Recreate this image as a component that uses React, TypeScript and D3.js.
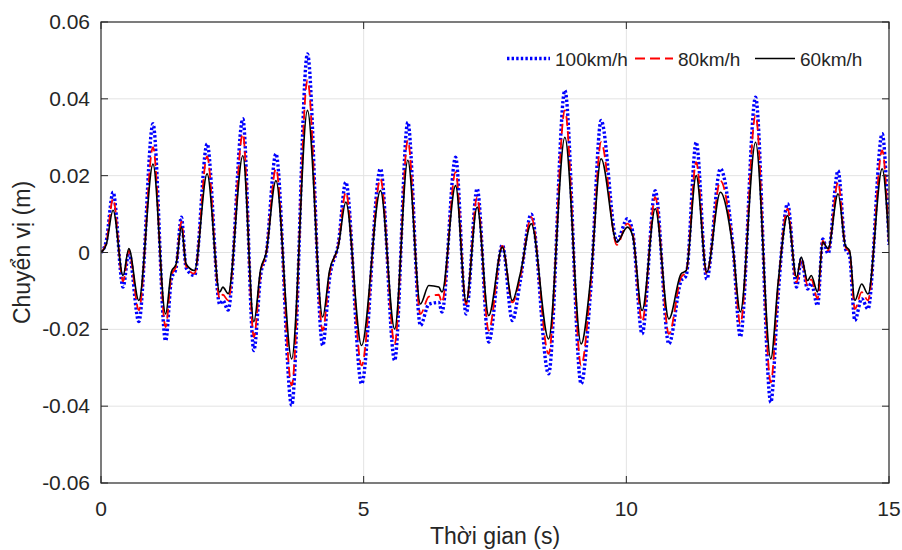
import * as d3 from 'd3';
import React, { useRef, useEffect, useCallback } from 'react';

// key points (time in s, displacement in m)
const time = [
    0.00, 0.10, 0.23, 0.42, 0.53, 0.72, 0.99, 1.23, 1.34, 1.43, 1.53, 1.62, 1.78, 2.02, 2.26, 2.32, 2.42,
    2.70, 2.91, 3.04, 3.14, 3.33, 3.63, 3.93, 4.22, 4.35, 4.52, 4.66, 4.96, 5.32, 5.59, 5.84, 6.08, 6.24,
    6.43, 6.49, 6.75, 6.95, 7.16, 7.38, 7.64, 7.83, 7.98, 8.19, 8.52, 8.83, 9.14, 9.32, 9.52, 9.82, 10.02,
    10.12, 10.30, 10.55, 10.81, 11.04, 11.14, 11.33, 11.53, 11.79, 12.03, 12.17, 12.46, 12.75, 12.89, 13.07,
    13.24, 13.33, 13.45, 13.52, 13.64, 13.74, 13.84, 14.03, 14.17, 14.25, 14.35, 14.48, 14.60, 14.87, 15.00
];

const v60 = [
    0, 0.002, 0.011, -0.006, 0.001, -0.0125, 0.023, -0.016, -0.005, -0.003, 0.0066, -0.003, -0.0047, 0.0205, -0.0103, -0.009, -0.0107,
    0.0252, -0.018, -0.0043, -0.0003, 0.0187, -0.0277, 0.037, -0.0168, -0.0047, 0.0018, 0.0131, -0.0242, 0.0161, -0.0199, 0.024, -0.0134, -0.0086,
    -0.009, -0.0103, 0.0174, -0.0129, 0.0118, -0.0164, 0.0014, -0.0125, -0.0056, 0.0075, -0.0225, 0.030, -0.0238, -0.0069, 0.0244, 0.0027, 0.0066,
    0.0044, -0.0151, 0.0114, -0.0173, -0.0056, -0.0047, 0.020, -0.0051, 0.0157, 0.001, -0.0155, 0.0287, -0.0277, -0.0077, 0.0096,
    -0.0064, -0.0012, -0.0073, -0.006, -0.0103, 0.0027, 0.001, 0.0153, 0.0018, 0.0005, -0.0125, -0.0082, -0.0108, 0.0218, 0.002
];

const v80 = [
    0, 0.0025, 0.014, -0.0075, 0.0005, -0.015, 0.0274, -0.0194, -0.006, -0.0035, 0.008, -0.0035, -0.0055, 0.025, -0.012, -0.011, -0.0125,
    0.0309, -0.022, -0.005, -0.0005, 0.0218, -0.0346, 0.0448, -0.0203, -0.0057, 0.0022, 0.0157, -0.0294, 0.0192, -0.0238, 0.0292, -0.016, -0.0115,
    -0.011, -0.013, 0.0209, -0.0135, 0.0144, -0.0203, 0.0017, -0.013, -0.0065, 0.0092, -0.0264, 0.037, -0.0294, -0.0085, 0.0287, 0.002, 0.0075,
    0.005, -0.018, 0.0144, -0.0212, -0.0065, -0.005, 0.0235, -0.0055, 0.0187, 0.0012, -0.0186, 0.0357, -0.0338, -0.009, 0.0114,
    -0.0078, -0.0015, -0.0085, -0.007, -0.012, 0.003, 0.0005, 0.0183, 0.0015, 0.0, -0.0147, -0.0103, -0.0125, 0.0266, 0.002
];

const v100 = [
    0, 0.003, 0.0157, -0.009, 0.0, -0.018, 0.0335, -0.023, -0.007, -0.004, 0.0092, -0.004, -0.006, 0.0283, -0.0135, -0.0125, -0.015,
    0.0348, -0.0255, -0.0058, -0.0008, 0.0257, -0.0398, 0.0517, -0.0242, -0.0068, 0.0026, 0.0183, -0.0342, 0.0218, -0.0281, 0.0339, -0.019, -0.0135,
    -0.013, -0.0155, 0.0248, -0.016, 0.0166, -0.0233, 0.002, -0.0177, -0.0075, 0.010, -0.0316, 0.0422, -0.0342, -0.01, 0.0344, 0.003, 0.0088,
    0.0055, -0.0212, 0.0161, -0.0238, -0.0075, -0.006, 0.0287, -0.0069, 0.0218, 0.0015, -0.022, 0.0404, -0.039, -0.011, 0.0127,
    -0.009, -0.0017, -0.0095, -0.008, -0.0138, 0.0035, -0.0003, 0.0213, 0.001, -0.001, -0.0177, -0.012, -0.0147, 0.0309, 0.002
];

const seriesNames = ["100km/h", "80km/h", "60km/h"];
const xTicks = [0, 5, 10, 15];
const yTicks = [-0.06, -0.04, -0.02, 0, 0.02, 0.04, 0.06];

const FONT = "'Liberation Sans', Arial, Helvetica, sans-serif";

function DisplacementChart({ width, height }: { width: number; height: number }) {
    const ref = useRef<SVGSVGElement>(null);

    const draw = useCallback(() => {
        d3.select(ref.current).selectAll("*").remove();
        const svg = d3.select(ref.current);

        const margin = { top: 22, right: 13, bottom: 67, left: 101 };
        const x = d3.scaleLinear().domain([0, 15]).range([margin.left, width - margin.right]);
        const y = d3.scaleLinear().domain([-0.06, 0.06]).range([height - margin.bottom, margin.top]);
        const [x0, x1] = x.range();
        const [y0, y1] = [y(0.06), y(-0.06)];

        svg.append("rect")
            .attr("x", x0).attr("y", y0)
            .attr("width", x1 - x0).attr("height", y1 - y0)
            .attr("fill", "white");

        // grid
        const grid = svg.append("g").attr("stroke", "#e3e3e3").attr("stroke-width", 1);
        grid.selectAll("line.gx")
            .data(xTicks.slice(1, -1))
            .join("line")
            .attr("x1", d => x(d)).attr("x2", d => x(d))
            .attr("y1", y0).attr("y2", y1);
        grid.selectAll("line.gy")
            .data(yTicks.slice(1, -1))
            .join("line")
            .attr("y1", d => y(d)).attr("y2", d => y(d))
            .attr("x1", x0).attr("x2", x1);

        // lines
        const defs = svg.append("defs");
        defs.append("clipPath").attr("id", "plot-clip")
            .append("rect")
            .attr("x", x0).attr("y", y0)
            .attr("width", x1 - x0).attr("height", y1 - y0);

        const line = (vals: number[]) => d3.line<number>()
            .x((d, i) => x(time[i]))
            .y(d => y(d))
            .curve(d3.curveMonotoneX)(vals);

        const styles = [
            { vals: v100, color: "#0000ff", width: 3.4, dash: "2.4,2.2" },
            { vals: v80, color: "#ff0000", width: 1.8, dash: "10,5" },
            { vals: v60, color: "#000000", width: 1.6, dash: null },
        ];

        const plot = svg.append("g").attr("clip-path", "url(#plot-clip)");
        styles.forEach(s => {
            plot.append("path")
                .attr("d", line(s.vals))
                .attr("fill", "none")
                .attr("stroke", s.color)
                .attr("stroke-width", s.width)
                .attr("stroke-dasharray", s.dash)
                .attr("stroke-linejoin", "round");
        });

        // frame and ticks
        const axisColor = "#262626";
        svg.append("rect")
            .attr("x", x0).attr("y", y0)
            .attr("width", x1 - x0).attr("height", y1 - y0)
            .attr("fill", "none")
            .attr("stroke", axisColor)
            .attr("stroke-width", 1.2);

        const tl = 7;
        const ticks = svg.append("g").attr("stroke", axisColor).attr("stroke-width", 1);
        xTicks.forEach(t => {
            ticks.append("line").attr("x1", x(t)).attr("x2", x(t)).attr("y1", y1).attr("y2", y1 - tl);
            ticks.append("line").attr("x1", x(t)).attr("x2", x(t)).attr("y1", y0).attr("y2", y0 + tl);
        });
        yTicks.forEach(t => {
            ticks.append("line").attr("y1", y(t)).attr("y2", y(t)).attr("x1", x0).attr("x2", x0 + tl);
            ticks.append("line").attr("y1", y(t)).attr("y2", y(t)).attr("x1", x1).attr("x2", x1 - tl);
        });

        svg.append("g")
            .selectAll("text")
            .data(xTicks)
            .join("text")
            .attr("x", d => x(d))
            .attr("y", y1 + 33)
            .attr("text-anchor", "middle")
            .attr("font-family", FONT)
            .attr("font-size", 21)
            .attr("fill", axisColor)
            .text(d => d3.format("d")(d));

        svg.append("g")
            .selectAll("text")
            .data(yTicks)
            .join("text")
            .attr("x", x0 - 11)
            .attr("y", d => y(d) + 7)
            .attr("text-anchor", "end")
            .attr("font-family", FONT)
            .attr("font-size", 21)
            .attr("fill", axisColor)
            .text(d => d === 0 ? "0" : d3.format(".2f")(d).replace("−", "-"));

        svg.append("text")
            .attr("x", (x0 + x1) / 2)
            .attr("y", height - 6)
            .attr("text-anchor", "middle")
            .attr("font-family", FONT)
            .attr("font-size", 23)
            .attr("fill", axisColor)
            .text("Thời gian (s)");

        svg.append("text")
            .attr("transform", `translate(30,${(y0 + y1) / 2}) rotate(-90)`)
            .attr("text-anchor", "middle")
            .attr("font-family", FONT)
            .attr("font-size", 23)
            .attr("fill", axisColor)
            .text("Chuyển vị (m)");

        // legend
        const legendPos = [507, 635, 755];
        const legendLen = [43, 38, 40];
        const legend = svg.append("g");
        styles.forEach((s, i) => {
            legend.append("line")
                .attr("x1", legendPos[i]).attr("x2", legendPos[i] + legendLen[i])
                .attr("y1", 58.5).attr("y2", 58.5)
                .attr("stroke", s.color)
                .attr("stroke-width", s.width)
                .attr("stroke-dasharray", s.dash);
            legend.append("text")
                .attr("x", legendPos[i] + legendLen[i] + 5)
                .attr("y", 65.5)
                .attr("font-family", FONT)
                .attr("font-size", 19)
                .attr("fill", axisColor)
                .text(seriesNames[i]);
        });
    }, [width, height]);

    useEffect(() => {
        draw();
    }, [draw]);

    return (
        <svg ref={ref} width={width} height={height}
            style={{ position: "absolute", left: 0, top: 0, background: "white" }} />
    );
}

export default function App() {
    return <DisplacementChart width={902} height={550} />;
}
